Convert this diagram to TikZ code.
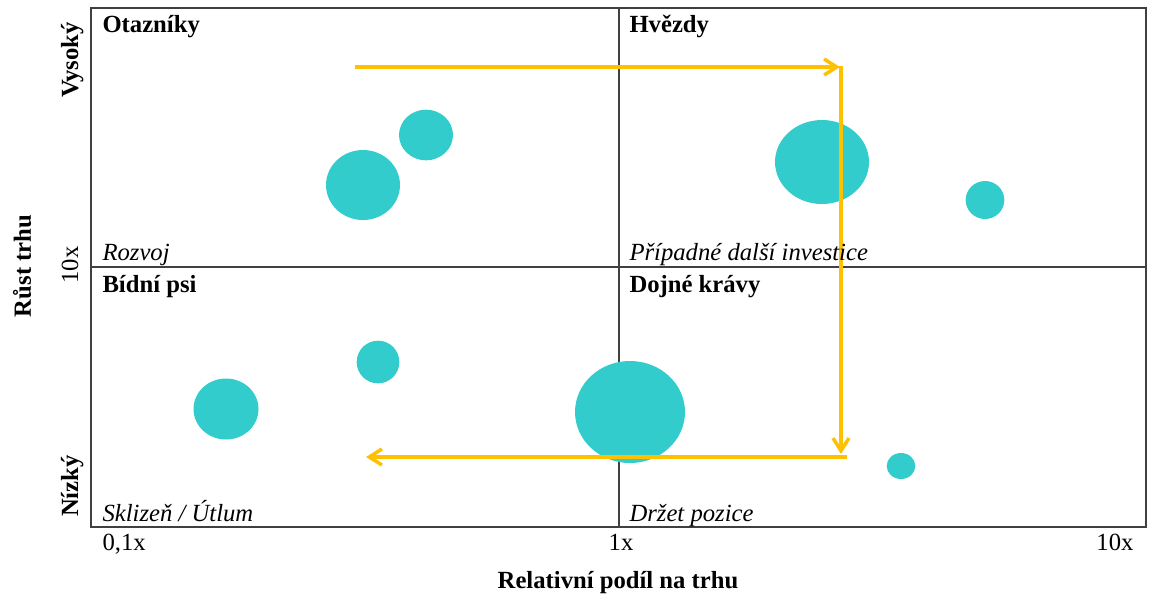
\documentclass[tikz,border=0pt]{standalone}
\usepackage{fontspec}
\setmainfont{Liberation Serif}
\usetikzlibrary{arrows.meta, shapes.geometric}
\definecolor{cteal}{HTML}{33CCCC}
\definecolor{cyellow}{HTML}{FFC000}
\definecolor{cframe}{HTML}{404040}
\tikzset{
  every picture/.style={line width=0.8pt},
  lbl/.style={font=\fontsize{18.5}{22}\selectfont, inner sep=0pt},
  quadname/.style={lbl, font=\fontsize{18.5}{22}\selectfont\bfseries, anchor=base west},
  quadhint/.style={lbl, font=\fontsize{18.5}{22}\selectfont\itshape, anchor=base west},
  axisname/.style={lbl, font=\fontsize{18.5}{22}\selectfont\bfseries, anchor=base},
  bubble/.style 2 args={ellipse, fill=cteal, inner sep=0pt, minimum width=#1, minimum height=#2},
  flow/.style={-{Straight Barb[length=9.5pt, width=12pt]}, draw=cyellow, line width=2.6pt},
}

\begin{document}
\begin{tikzpicture}[x=0.75pt, y=-0.75pt]
  \useasboundingbox (0,0) rectangle (1149,597);
  % quadrant grid
  \draw[cframe] (619,8) -- (619,527);
  \draw[cframe] (91,267) -- (1146,267);
  \draw[cframe, line width=1.1pt] (91,8) rectangle (1146,527);
  % products
  \node[bubble={55.5pt}{52.5pt}] (q1) at (363,185) {};
  \node[bubble={40.5pt}{38pt}] (q2) at (426,135) {};
  \node[bubble={70.5pt}{63pt}] (s1) at (822,162) {};
  \node[bubble={29pt}{28.5pt}] (s2) at (985,200) {};
  \node[bubble={48.75pt}{45.75pt}] (d1) at (226,409) {};
  \node[bubble={32pt}{32pt}] (d2) at (378,362) {};
  \node[bubble={82.5pt}{76.5pt}] (c1) at (630,412) {};
  \node[bubble={21.5pt}{19.5pt}] (c2) at (901,466) {};
  % cash flow
  \coordinate (f1) at (355,67);
  \coordinate (f2) at (840,67);
  \coordinate (f3) at (841,66);
  \coordinate (f4) at (841,454);
  \coordinate (f5) at (847,457);
  \coordinate (f6) at (366,457);
  \draw[flow] (f1) -- (f2);
  \draw[flow] (f3) -- (f4);
  \draw[flow] (f5) -- (f6);
  % quadrant labels
  \node[quadname] (otazniky) at (102,32) {Otazníky};
  \node[quadname] (hvezdy) at (629,32) {Hvězdy};
  \node[quadname] (psi) at (102,292) {Bídní psi};
  \node[quadname] (kravy) at (629,292) {Dojné krávy};
  \node[quadhint] (rozvoj) at (102,260) {Rozvoj};
  \node[quadhint] (investice) at (629,260) {Případné další investice};
  \node[quadhint] (utlum) at (102,521) {Sklizeň / Útlum};
  \node[quadhint] (pozice) at (629,521) {Držet pozice};
  % axes
  \node[lbl, anchor=base west] (x01) at (102,550) {0,1x};
  \node[lbl, anchor=base] (x1) at (621,550) {1x};
  \node[lbl, anchor=base east] (x10) at (1134,550) {10x};
  \node[axisname] (podil) at (618,588) {Relativní podíl na trhu};
  \node[axisname, rotate=90] (vysoky) at (78,60) {Vysoký};
  \node[axisname, rotate=90] (nizky) at (78,486) {Nízký};
  \node[lbl, anchor=base, rotate=90] (y10) at (78,265) {10x};
  \node[axisname, rotate=90] (rust) at (31,266) {Růst trhu};
\end{tikzpicture}
\end{document}
